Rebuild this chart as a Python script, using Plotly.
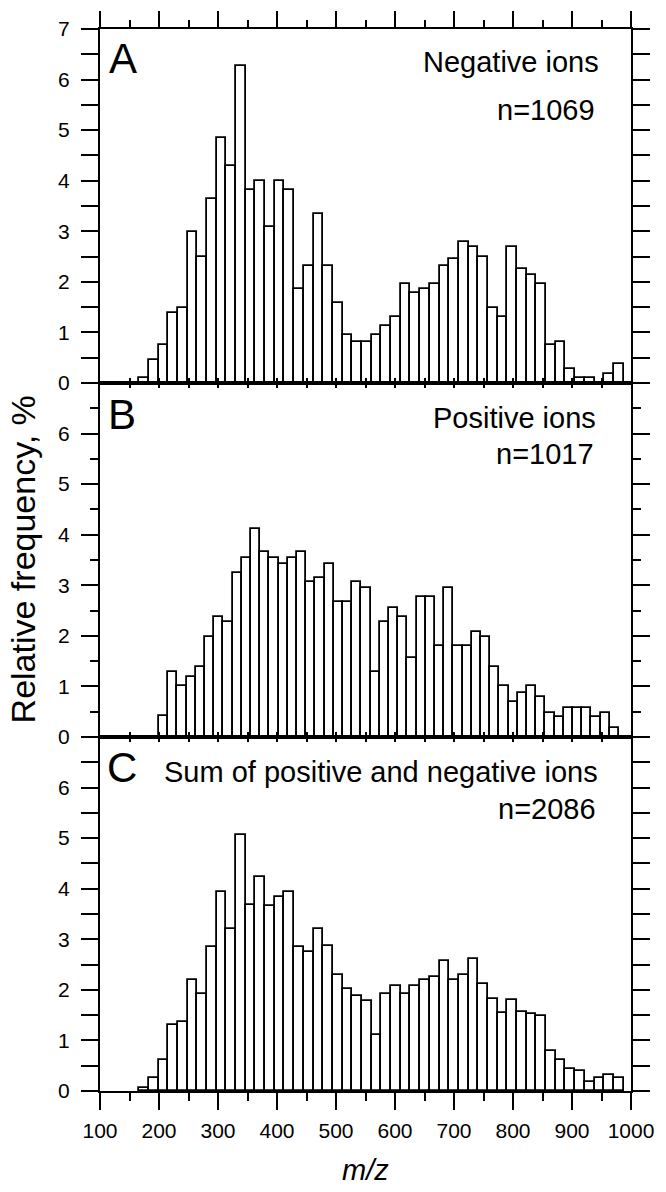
import numpy as np
import plotly.graph_objects as go

# ---------------- data ----------------
# Panel A: negative ions, 50 bins
neg_bin_start = 166.4
neg_bin_width = 16.42
neg_values = [0.10, 0.46, 0.76, 1.38, 1.49, 2.98, 2.50, 3.64, 4.85, 4.29,
              6.27, 3.81, 4.00, 3.09, 4.00, 3.81, 1.85, 2.32, 3.34, 2.32,
              1.59, 0.94, 0.82, 0.82, 0.95, 1.12, 1.30, 1.96, 1.78, 1.85,
              1.96, 2.32, 2.45, 2.79, 2.68, 2.50, 1.49, 1.30, 2.68, 2.26,
              2.14, 1.96, 0.76, 0.82, 0.28, 0.09, 0.09, 0.00, 0.18, 0.37]

# Panel B: positive ions, 50 bins
pos_bin_start = 200.0
pos_bin_width = 15.59
pos_values = [0.41, 1.28, 1.00, 1.18, 1.39, 1.97, 2.38, 2.27, 3.25, 3.53,
              4.12, 3.65, 3.54, 3.42, 3.54, 3.65, 3.06, 3.14, 3.43, 2.66,
              2.66, 3.06, 2.95, 1.28, 2.27, 2.56, 2.37, 1.57, 2.77, 2.77,
              1.79, 2.95, 1.79, 1.79, 2.08, 1.97, 1.39, 1.00, 0.70, 0.88,
              1.00, 0.80, 0.47, 0.39, 0.58, 0.58, 0.58, 0.39, 0.47, 0.18]

# Panel C: sum of positive and negative ions, 50 bins
sum_bin_start = 166.4
sum_bin_width = 16.42
sum_values = [0.05, 0.26, 0.62, 1.31, 1.36, 2.20, 1.92, 2.84, 3.93, 3.20,
              5.06, 3.68, 4.23, 3.65, 3.83, 3.93, 2.84, 2.74, 3.20, 2.87,
              2.29, 2.02, 1.87, 1.78, 1.10, 1.92, 2.07, 1.92, 2.07, 2.20,
              2.26, 2.58, 2.20, 2.29, 2.62, 2.12, 1.82, 1.54, 1.79, 1.56,
              1.53, 1.49, 0.80, 0.62, 0.43, 0.40, 0.18, 0.25, 0.32, 0.25]

panel_letters = ["A", "B", "C"]
panel_titles = ["Negative ions", "Positive ions", "Sum of positive and negative ions"]
panel_counts = ["n=1069", "n=1017", "n=2086"]

x_tick_vals = [100, 200, 300, 400, 500, 600, 700, 800, 900, 1000]
y_tick_vals = [0, 1, 2, 3, 4, 5, 6, 7]

FONT = "Liberation Sans, Arial, sans-serif"


def centers(start, width, n):
    return start + width * (np.arange(n) + 0.5)


series = [
    (neg_bin_start, neg_bin_width, neg_values),
    (pos_bin_start, pos_bin_width, pos_values),
    (sum_bin_start, sum_bin_width, sum_values),
]

fig = go.Figure()
for i, (s, w, v) in enumerate(series):
    sfx = "" if i == 0 else str(i + 1)
    fig.add_trace(go.Bar(
        x=centers(s, w, len(v)), y=v, width=w,
        marker=dict(color="white", line=dict(color="black", width=1.8)),
        xaxis="x" + sfx, yaxis="y" + sfx, showlegend=False,
    ))

# dummy traces to carry the overlay tick axes
fig.add_trace(go.Scatter(x=[None], y=[None], xaxis="x4", yaxis="y", showlegend=False))
fig.add_trace(go.Scatter(x=[None], y=[None], xaxis="x5", yaxis="y3", showlegend=False))

axis_common = dict(showline=True, linecolor="black", linewidth=2,
                   showgrid=False, zeroline=False, tickcolor="black", tickwidth=2)

tick_font = dict(family=FONT, size=21, color="black")

doms = [[2 / 3, 1], [1 / 3, 2 / 3], [0, 1 / 3]]
layout = dict(
    width=666, height=1192,
    margin=dict(l=100, r=33, t=25, b=101),
    paper_bgcolor="white", plot_bgcolor="white",
    bargap=0, showlegend=False,
    font=dict(family=FONT, color="black"),
)

for i in range(3):
    sfx = "" if i == 0 else str(i + 1)
    ytext = [str(t) for t in y_tick_vals]
    if i > 0:
        ytext[-1] = ""
    layout["yaxis" + sfx] = dict(
        axis_common, domain=doms[i], anchor="x" + sfx, range=[0, 7],
        tickmode="array", tickvals=y_tick_vals, ticktext=ytext,
        ticks="outside", ticklen=17, mirror="allticks",
        minor=dict(dtick=0.5, tick0=0, ticks="outside", ticklen=8,
                   tickwidth=2, tickcolor="black", showgrid=False),
        tickfont=tick_font, ticklabelstandoff=7,
    )

minor_in = dict(dtick=50, tick0=0, ticks="inside", ticklen=5, tickwidth=2,
                tickcolor="black", showgrid=False)
minor_out = dict(dtick=50, tick0=0, ticks="outside", ticklen=8, tickwidth=2,
                 tickcolor="black", showgrid=False)

# A: inner bottom ticks (into A)
layout["xaxis"] = dict(
    axis_common, domain=[0, 1], anchor="y", range=[100, 1000],
    tickmode="array", tickvals=x_tick_vals, ticks="inside", ticklen=5,
    minor=minor_in, showticklabels=False, mirror=True,
)
# A: top outward ticks
layout["xaxis4"] = dict(
    axis_common, showline=False, overlaying="x", side="top", anchor="y",
    matches="x", tickmode="array", tickvals=x_tick_vals,
    ticks="outside", ticklen=17, minor=minor_out, showticklabels=False,
)
# B: inward ticks top and bottom
layout["xaxis2"] = dict(
    axis_common, domain=[0, 1], anchor="y2", matches="x",
    tickmode="array", tickvals=x_tick_vals, ticks="inside", ticklen=5,
    minor=minor_in, showticklabels=False, mirror="allticks",
)
# C: bottom outward ticks with labels
layout["xaxis3"] = dict(
    axis_common, domain=[0, 1], anchor="y3", matches="x",
    tickmode="array", tickvals=x_tick_vals, ticks="outside", ticklen=17,
    minor=minor_out, showticklabels=True, tickfont=tick_font,
    ticklabelstandoff=3, mirror=True,
)
# C: top inward ticks
layout["xaxis5"] = dict(
    axis_common, showline=False, overlaying="x3", side="top", anchor="y3",
    matches="x", tickmode="array", tickvals=x_tick_vals,
    ticks="inside", ticklen=5, minor=minor_in, showticklabels=False,
)

fig.update_layout(**layout)

# panel texts
letter_pos = [(0.013, 0.9725), (0.011, 0.6370), (0.009, 0.3048)]
title_pos = [(0.9437, 0.9691), (0.938, 0.6341), (0.9413, 0.3003)]
count_pos = [(0.9368, 0.9234), (0.935, 0.6000), (0.938, 0.2659)]
for i in range(3):
    fig.add_annotation(text=panel_letters[i], x=letter_pos[i][0], y=letter_pos[i][1],
                       xref="paper", yref="paper", xanchor="left", yanchor="middle",
                       showarrow=False, font=dict(family=FONT, size=42, color="black"))
    fig.add_annotation(text=panel_titles[i], x=title_pos[i][0], y=title_pos[i][1],
                       xref="paper", yref="paper", xanchor="right", yanchor="middle",
                       showarrow=False, font=dict(family=FONT, size=29, color="black"))
    fig.add_annotation(text=panel_counts[i], x=count_pos[i][0], y=count_pos[i][1],
                       xref="paper", yref="paper", xanchor="right", yanchor="middle",
                       showarrow=False, font=dict(family=FONT, size=29, color="black"))

fig.add_annotation(text="Relative frequency, %", x=-0.1445, y=0.5008, xref="paper", yref="paper",
                   textangle=-90, showarrow=False, xanchor="center", yanchor="middle",
                   font=dict(family=FONT, size=34, color="black"))
fig.add_annotation(text="<i>m/z</i>", x=0.5, y=-0.0744, xref="paper", yref="paper",
                   showarrow=False, xanchor="center", yanchor="middle",
                   font=dict(family=FONT, size=29, color="black"))

fig.write_html(
    "out.html",
    config={"displayModeBar": False},
    post_script="document.body.style.margin='0';document.body.style.overflow='hidden';",
)
